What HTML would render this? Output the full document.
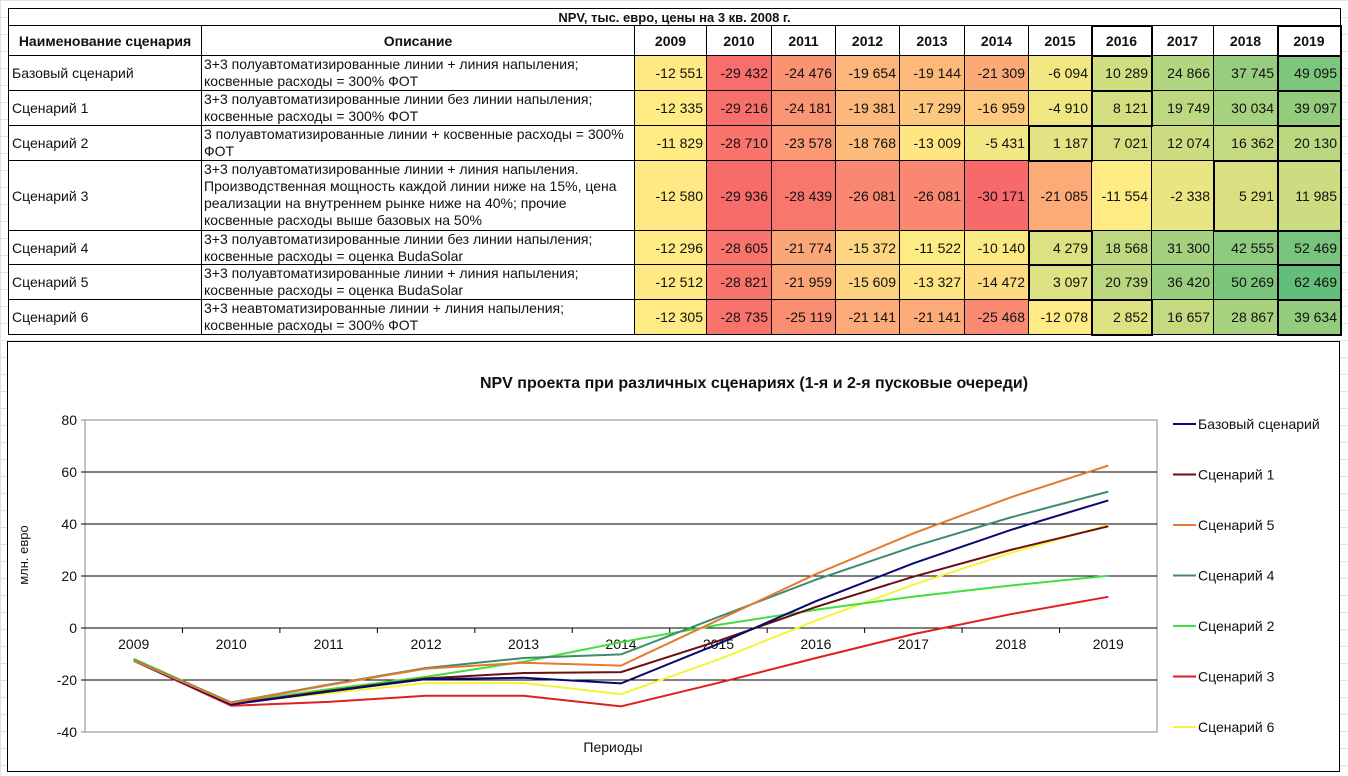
<!DOCTYPE html>
<html><head><meta charset="utf-8">
<style>
body{margin:0;width:1348px;height:776px;overflow:hidden;background:#fff;font-family:"Liberation Sans",Arial,sans-serif;position:relative}
.grid{position:absolute;left:0;top:0;width:1348px;height:776px;
background-image:linear-gradient(#e2e2e2 1px,transparent 1px),linear-gradient(90deg,#e2e2e2 1px,transparent 1px);
background-size:100% 17px,100% 100%;}
.c{position:absolute;box-sizing:border-box;border-right:1px solid #000;border-bottom:1px solid #000;font-size:14px;color:#111;overflow:hidden;white-space:nowrap}
.hd{font-weight:bold;text-align:center;background:#fff;display:flex;align-items:center;justify-content:center}
.nm{background:#fff;display:flex;align-items:center;padding-left:3px}
.ds{background:#fff;font-size:14px;line-height:17px;padding:0 2px;white-space:normal}
.v{display:flex;align-items:center;justify-content:flex-end;padding-right:3px;font-size:14px}
.thick{outline:2px solid #000;outline-offset:-1px;z-index:2}
</style></head><body>
<div class="grid"></div>
<div id="tbl"></div>
<div style="position:absolute;left:7px;top:341px;width:1333px;height:431px;border:1px solid #000;background:#fff;box-sizing:border-box"></div>
<svg id="chart" width="1348" height="776" style="position:absolute;left:0;top:0"></svg>
<script>
const years=["2009","2010","2011","2012","2013","2014","2015","2016","2017","2018","2019"];
const names=["Базовый сценарий","Сценарий 1","Сценарий 2","Сценарий 3","Сценарий 4","Сценарий 5","Сценарий 6"];
const descs=["3+3 полуавтоматизированные линии + линия напыления; косвенные расходы = 300% ФОТ",
"3+3 полуавтоматизированные линии без линии напыления; косвенные расходы = 300% ФОТ",
"3 полуавтоматизированные линии + косвенные расходы = 300% ФОТ",
"3+3 полуавтоматизированные линии + линия напыления. Производственная мощность каждой линии ниже на 15%, цена реализации на внутреннем рынке ниже на 40%; прочие косвенные расходы выше базовых на 50%",
"3+3 полуавтоматизированные линии без линии напыления; косвенные расходы = оценка BudaSolar",
"3+3 полуавтоматизированные линии + линия напыления; косвенные расходы = оценка BudaSolar",
"3+3 неавтоматизированные линии + линия напыления; косвенные расходы = 300% ФОТ"];
const base=[-12551,-29432,-24476,-19654,-19144,-21309,-6094,10289,24866,37745,49095];
const sc1=[-12335,-29216,-24181,-19381,-17299,-16959,-4910,8121,19749,30034,39097];
const sc2=[-11829,-28710,-23578,-18768,-13009,-5431,1187,7021,12074,16362,20130];
const sc3=[-12580,-29936,-28439,-26081,-26081,-30171,-21085,-11554,-2338,5291,11985];
const sc4=[-12296,-28605,-21774,-15372,-11522,-10140,4279,18568,31300,42555,52469];
const sc5=[-12512,-28821,-21959,-15609,-13327,-14472,3097,20739,36420,50269,62469];
const sc6=[-12305,-28735,-25119,-21141,-21141,-25468,-12078,2852,16657,28867,39634];
const rows=[base,sc1,sc2,sc3,sc4,sc5,sc6];
const thickIdx=[7,7,6,9,6,6,7];
const yTicks=[80,60,40,20,0,-20,-40];

const tbl=document.getElementById('tbl');
const colX=[8,202,635,707,772,836,900,965,1029,1092,1152,1214,1278,1341];
const rowY=[56,91,126,161,231,265,300,335];
function cell(cls,x,y,w,h,txt,name){const d=document.createElement('div');d.className='c '+cls;
d.style.left=x+'px';d.style.top=y+'px';d.style.width=w+'px';d.style.height=h+'px';d.textContent=txt;


tbl.appendChild(d);return d;}
const t=cell('hd',8,8,1333,18,'NPV, тыс. евро, цены на 3 кв. 2008 г.','table-title');t.style.borderLeft='1px solid #000';t.style.borderTop='1px solid #000';t.style.fontSize='13px';
const h1=cell('hd',8,26,194,30,'Наименование сценария','header-name');h1.style.borderLeft='1px solid #000';
cell('hd',202,26,433,30,'Описание','header-description');
years.forEach((y,i)=>{const d=cell('hd',colX[i+2],26,colX[i+3]-colX[i+2],30,y,'header-year');if(i==7||i==10)d.classList.add('thick');});
const all=rows.flat().slice().sort((a,b)=>a-b);const mn=all[0],mx=all[all.length-1],md=all[Math.floor(all.length/2)];
function lerp(a,b,t){return a.map((v,i)=>Math.round(v+(b[i]-v)*t));}
function col(v){const R=[248,105,107],Y=[255,235,132],G=[99,190,123];
const c=v<md?lerp(R,Y,(v-mn)/(md-mn)):lerp(Y,G,(v-md)/(mx-md));return 'rgb('+c.join(',')+')';}
function fmt(v){const s=Math.abs(v).toString().replace(/\B(?=(\d{3})+(?!\d))/g,' ');return (v<0?'-':'')+s;}
rows.forEach((r,ri)=>{const y=rowY[ri],h=rowY[ri+1]-y;
const n=cell('nm',8,y,194,h,names[ri],'scenario-name');n.style.borderLeft='1px solid #000';
cell('ds',202,y,433,h,descs[ri],'scenario-description');
r.forEach((v,i)=>{const d=cell('v',colX[i+2],y,colX[i+3]-colX[i+2],h,fmt(v),'npv-cell');d.style.background=col(v);
if(i==thickIdx[ri]||i==10)d.classList.add('thick');});});

const svg=document.getElementById('chart');const NS='http://www.w3.org/2000/svg';
const L=85,R=1157,T=420,B=732,yMin=-40,yMax=80;
const xS=i=>L+(R-L)/years.length*(i+0.5);
const yS=v=>T+(yMax-v)/(yMax-yMin)*(B-T);
function el(tag,attrs,txt){const e=document.createElementNS(NS,tag);for(const k in attrs)e.setAttribute(k,attrs[k]);if(txt!=null)e.textContent=txt;svg.appendChild(e);return e;}
let e=el('rect',{x:L,y:T,width:R-L,height:B-T,fill:'#fff',stroke:'#888'});
yTicks.forEach(v=>{let g=el('line',{x1:L-4,x2:R,y1:yS(v),y2:yS(v),stroke:v==80||v==-40?'#888':'#000','stroke-width':1});

let tx=el('text',{x:L-8,y:yS(v)+5,'text-anchor':'end','font-size':14,fill:'#111'},String(v));
});
years.forEach((y,i)=>{if(i>0){let tk=el('line',{x1:L+(R-L)/years.length*i,x2:L+(R-L)/years.length*i,y1:yS(0),y2:yS(0)+5,stroke:'#000'});}
let tx=el('text',{x:xS(i),y:yS(0)+21,'text-anchor':'middle','font-size':14,fill:'#111'},y);
});
const series=[{n:names[0],d:base,c:'#0a0a6e'},{n:names[1],d:sc1,c:'#6b0f0f'},{n:names[5],d:sc5,c:'#e8782e'},{n:names[4],d:sc4,c:'#3f8c6c'},{n:names[2],d:sc2,c:'#3fe03f'},{n:names[3],d:sc3,c:'#dd2020'},{n:names[6],d:sc6,c:'#f4f43a'}];
const drawOrder=[6,5,4,1,0,3,2];
drawOrder.forEach(si=>{const s=series[si];const pts=s.d.map((v,i)=>xS(i).toFixed(1)+','+yS(v/1000).toFixed(1)).join(' ');
let p=el('polyline',{points:pts,fill:'none',stroke:s.c,'stroke-width':2});});
series.forEach((s,i)=>{const y=424+i*50.5;
let ln=el('line',{x1:1173,x2:1196,y1:y,y2:y,stroke:s.c,'stroke-width':2});
let tx=el('text',{x:1198,y:y+5,'font-size':14,fill:'#111'},s.n);});
e=el('text',{x:754,y:388,'text-anchor':'middle','font-size':16,'font-weight':'bold',fill:'#111'},'NPV проекта при различных сценариях (1-я и 2-я пусковые очереди)');
e=el('text',{x:0,y:0,'text-anchor':'middle','font-size':13,fill:'#111',transform:'translate(28,555) rotate(-90)'},'млн. евро');
e=el('text',{x:613,y:752,'text-anchor':'middle','font-size':14,fill:'#111'},'Периоды');
</script>
</body></html>
